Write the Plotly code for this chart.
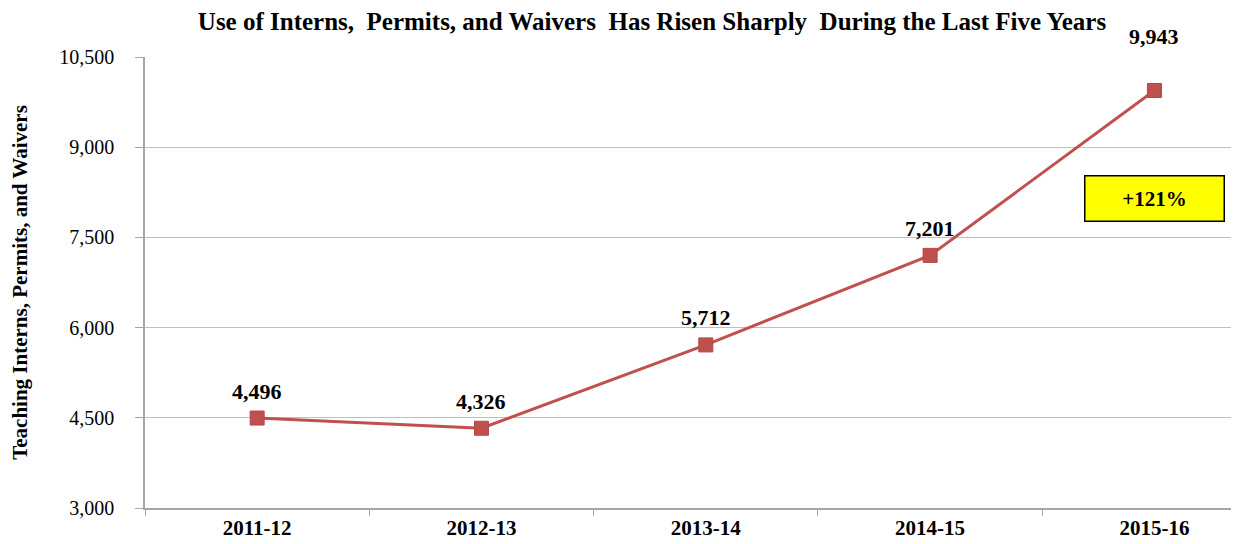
import plotly.graph_objects as go

years = ["2011-12", "2012-13", "2013-14", "2014-15", "2015-16"]
counts = [4496, 4326, 5712, 7201, 9943]
label_offsets = [27, 27, 27, 27, 54]  # pixel offsets of data labels above points
y_ticks = [3000, 4500, 6000, 7500, 9000, 10500]
change_label = "+121%"

SERIF = "Liberation Serif, Times New Roman, serif"
RED = "#C0504D"

fig = go.Figure()
fig.add_trace(go.Scatter(
    x=years, y=counts, mode="lines+markers",
    line=dict(color=RED, width=3),
    marker=dict(symbol="square", size=14, color=RED, line=dict(color="#B04845", width=1)),
    hoverinfo="x+y", showlegend=False,
))

for xv, yv, off in zip(years, counts, label_offsets):
    fig.add_annotation(x=xv, y=yv, text=f"<b>{yv:,}</b>", showarrow=False,
                       yshift=off, font=dict(family=SERIF, size=22, color="#000"))

fig.add_annotation(x=years[-1], y=8155, text=f"<b>{change_label}</b>", showarrow=False,
                   bgcolor="#FFFF00", bordercolor="#000000", borderwidth=1.5, borderpad=0,
                   width=138, height=44, font=dict(family=SERIF, size=21, color="#000"))

fig.update_layout(
    width=1231, height=536, autosize=False,
    margin=dict(l=137, r=0, t=49, b=36),
    paper_bgcolor="white", plot_bgcolor="white",
    title=dict(text="<b>Use of Interns,  Permits, and Waivers  Has Risen Sharply  During the Last Five Years</b>",
               x=(652 - 8) / 1231, xanchor="center", y=1 - 13 / 536, yanchor="middle", yref="container",
               font=dict(family=SERIF, size=25, color="#000")),
    font=dict(family=SERIF, color="#000"),
)
fig.update_xaxes(
    type="category", range=[-0.5, 4.377],
    showline=True, linecolor="#A6A6A6", linewidth=1.5,
    ticks="outside", tickson="boundaries", ticklen=6, tickcolor="#A6A6A6",
    showgrid=False, tickfont=dict(family=SERIF, size=21, color="#000"),
    tickprefix="<b>", ticksuffix="</b>",
)
fig.update_yaxes(
    range=[3000, 10500], tickvals=y_ticks, ticktext=[f"{v:,}" for v in y_ticks],
    showline=True, linecolor="#A6A6A6", linewidth=1.5,
    ticks="outside", ticklen=8, tickcolor="#A6A6A6", ticklabelstandoff=17,
    showgrid=True, gridcolor="#BFBFBF", gridwidth=1, zeroline=False,
    tickfont=dict(family=SERIF, size=20, color="#000"),
    title=dict(text="<b>Teaching Interns, Permits, and Waivers</b>", standoff=30,
               font=dict(family=SERIF, size=21, color="#000")),
)

fig.write_html("out.html")
